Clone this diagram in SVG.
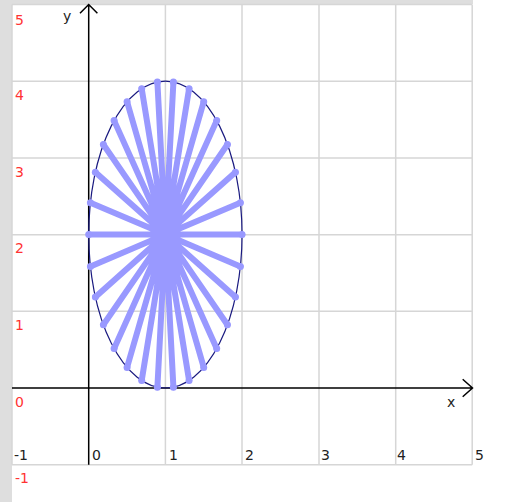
<svg xmlns="http://www.w3.org/2000/svg" width="511" height="502" viewBox="0 0 511 502">
<style>
.grid{stroke:#d6d6d6;stroke-width:1.5;fill:none}
.axis{stroke:#000;stroke-width:1.5;fill:none}
.lbl{font-family:"DejaVu Sans","Liberation Sans",sans-serif;font-size:14px}
.ylab{fill:#ff3333}
.xlab{fill:#222}
.spoke{stroke:#9999ff;stroke-width:6;stroke-linecap:round;fill:none}
.dot{fill:#9999ff}
</style>
<rect x="0" y="0" width="511" height="502" fill="#fff"/>
<rect x="0" y="0" width="12" height="502" fill="#dedede"/>
<rect x="0" y="0" width="473" height="4" fill="#dedede"/>
<g id="grid">
<path class="grid" d="M12,4.5V464.7 M165.4,4.5V464.7 M242,4.5V464.7 M319,4.5V464.7 M395.7,4.5V464.7 M472.2,4.5V464.7 M12,4.5H472.2 M12,81.3H472.2 M12,158H472.2 M12,234.7H472.2 M12,311.3H472.2 M12,464.7H472.2"/>
</g>
<g id="labels" class="lbl">
<text class="ylab" x="15" y="24.5">5</text>
<text class="ylab" x="15" y="100">4</text>
<text class="ylab" x="15" y="176.5">3</text>
<text class="ylab" x="15" y="253">2</text>
<text class="ylab" x="15" y="330">1</text>
<text class="ylab" x="15" y="407">0</text>
<text class="ylab" x="15" y="483">-1</text>
<text class="xlab" x="14" y="460">-1</text>
<text class="xlab" x="92" y="460">0</text>
<text class="xlab" x="169" y="460">1</text>
<text class="xlab" x="245" y="460">2</text>
<text class="xlab" x="321" y="460">3</text>
<text class="xlab" x="397" y="460">4</text>
<text class="xlab" x="475" y="460">5</text>
<text class="xlab" x="63" y="21">y</text>
<text class="xlab" x="447" y="407">x</text>
</g>
<g id="axes">
<path class="axis" d="M88.7,464.7V4.5 M80,13.3L88.7,4.5L97.4,13.3"/>
<path class="axis" d="M12,388H472.5 M462.7,379.3L472.5,388L462.7,396.7"/>
</g>
<g id="ellipse">
<ellipse cx="165.4" cy="234.6" rx="76.66" ry="153.4" fill="none" stroke="#1a1a80" stroke-width="1.2"/>
</g>
<g id="spokes">
<path class="spoke" d="M165.4,234.6L242.06,234.6 M165.4,234.6L240.38,202.71 M165.4,234.6L235.43,172.21 M165.4,234.6L227.42,144.43 M165.4,234.6L216.69,120.61 M165.4,234.6L203.73,101.76 M165.4,234.6L189.09,88.70 M165.4,234.6L173.41,82.04 M165.4,234.6L157.39,82.04 M165.4,234.6L141.71,88.70 M165.4,234.6L127.07,101.76 M165.4,234.6L114.11,120.61 M165.4,234.6L103.38,144.43 M165.4,234.6L95.37,172.21 M165.4,234.6L90.42,202.71 M165.4,234.6L88.74,234.6 M165.4,234.6L90.42,266.49 M165.4,234.6L95.37,296.99 M165.4,234.6L103.38,324.77 M165.4,234.6L114.11,348.59 M165.4,234.6L127.07,367.44 M165.4,234.6L141.71,380.50 M165.4,234.6L157.39,387.16 M165.4,234.6L173.41,387.16 M165.4,234.6L189.09,380.50 M165.4,234.6L203.73,367.44 M165.4,234.6L216.69,348.59 M165.4,234.6L227.42,324.77 M165.4,234.6L235.43,296.99 M165.4,234.6L240.38,266.49"/>
<g class="dot">
<circle cx="242.06" cy="234.6" r="3.5"/><circle cx="240.38" cy="202.71" r="3.5"/><circle cx="235.43" cy="172.21" r="3.5"/><circle cx="227.42" cy="144.43" r="3.5"/><circle cx="216.69" cy="120.61" r="3.5"/><circle cx="203.73" cy="101.76" r="3.5"/><circle cx="189.09" cy="88.70" r="3.5"/><circle cx="173.41" cy="82.04" r="3.5"/><circle cx="157.39" cy="82.04" r="3.5"/><circle cx="141.71" cy="88.70" r="3.5"/><circle cx="127.07" cy="101.76" r="3.5"/><circle cx="114.11" cy="120.61" r="3.5"/><circle cx="103.38" cy="144.43" r="3.5"/><circle cx="95.37" cy="172.21" r="3.5"/><circle cx="90.42" cy="202.71" r="3.5"/><circle cx="88.74" cy="234.6" r="3.5"/><circle cx="90.42" cy="266.49" r="3.5"/><circle cx="95.37" cy="296.99" r="3.5"/><circle cx="103.38" cy="324.77" r="3.5"/><circle cx="114.11" cy="348.59" r="3.5"/><circle cx="127.07" cy="367.44" r="3.5"/><circle cx="141.71" cy="380.50" r="3.5"/><circle cx="157.39" cy="387.16" r="3.5"/><circle cx="173.41" cy="387.16" r="3.5"/><circle cx="189.09" cy="380.50" r="3.5"/><circle cx="203.73" cy="367.44" r="3.5"/><circle cx="216.69" cy="348.59" r="3.5"/><circle cx="227.42" cy="324.77" r="3.5"/><circle cx="235.43" cy="296.99" r="3.5"/><circle cx="240.38" cy="266.49" r="3.5"/>
</g>
</g>
</svg>
